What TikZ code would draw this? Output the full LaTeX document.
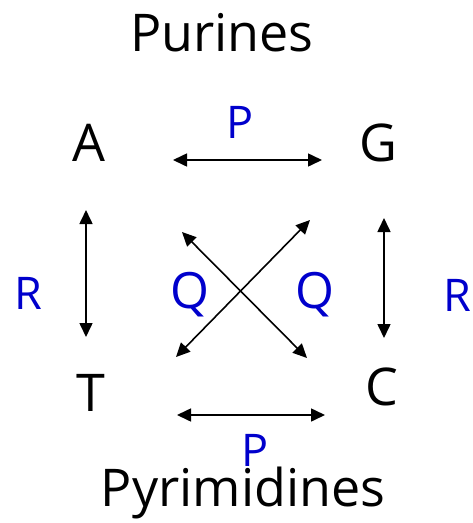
\documentclass[tikz,border=0pt]{standalone}
\usepackage{fontspec}
\setmainfont{Open Sans}
\usetikzlibrary{arrows.meta}
\definecolor{lblblue}{RGB}{0,0,204}

\begin{document}
\begin{tikzpicture}[x=1pt,y=1pt,
  base/.style={inner sep=0pt,font=\fontsize{52}{56}\selectfont},
  lbl/.style={inner sep=0pt,text=lblblue,font=\fontsize{45}{48}\selectfont},
  ttl/.style={inner sep=0pt,font=\fontsize{52}{56}\selectfont},
  arr/.style={{Triangle[length=14pt,width=13pt]}-{Triangle[length=14pt,width=13pt]},line width=1.6pt}]
  \useasboundingbox (0,0) rectangle (473,-523);
  \node[ttl] (pur) at (222,-33) {Purines};
  \node[ttl] (pyr) at (243,-493) {Pyrimidines};
  \node[base] (A) at (89,-143) {A};
  \node[base] (G) at (378,-143) {G};
  \node[base] (T) at (91,-393) {T};
  \node[base] (C) at (382,-387) {C};
  \node[lbl] (p1) at (240,-122) {P};
  \node[lbl] (p2) at (255,-450) {P};
  \node[lbl,font=\fontsize{50}{54}\selectfont] (q1) at (190,-295) {Q};
  \node[lbl,font=\fontsize{50}{54}\selectfont] (q2) at (315,-295) {Q};
  \node[lbl] (r1) at (28,-293) {R};
  \node[lbl] (r2) at (457,-295) {R};
  \draw[arr] ([shift={(84pt,-17pt)}]A.center) -- ([shift={(-56pt,-17pt)}]G.center);
  \draw[arr] ([shift={(86pt,-22pt)}]T.center) -- ([shift={(-57pt,-28pt)}]C.center);
  \draw[arr] ([shift={(-3pt,-67pt)}]A.center) -- ([shift={(-5pt,56pt)}]T.center);
  \draw[arr] ([shift={(6pt,-75pt)}]G.center) -- ([shift={(2pt,49pt)}]C.center);
  \draw[arr] ([shift={(85pt,36pt)}]T.center) -- ([shift={(-68pt,-77pt)}]G.center);
  \draw[arr] ([shift={(93pt,-89pt)}]A.center) -- ([shift={(-75pt,29pt)}]C.center);
\end{tikzpicture}
\end{document}
